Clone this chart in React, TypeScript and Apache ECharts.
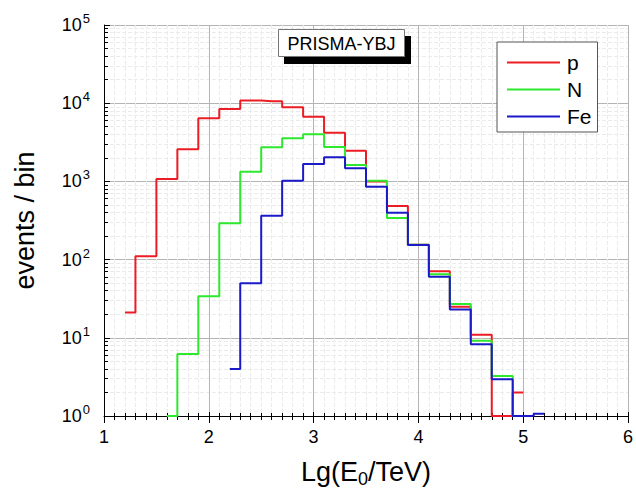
import React, { useEffect, useRef } from 'react';
import * as echarts from 'echarts';

// Bin centres (Lg(E0/TeV)) and counts per bin
const pX = [1.2, 1.4, 1.6, 1.8, 2.0, 2.2, 2.4, 2.6, 2.8, 3.0, 3.2, 3.4, 3.6, 3.8, 4.0, 4.2, 4.4, 4.6, 4.8, 5.0];
const pY = [21, 110, 1070, 2570, 6400, 8400, 10800, 10600, 8900, 6700, 4200, 2470, 1000, 484, 155, 71, 25, 10.9, 1, 2];

const nX = [1.6, 1.8, 2.0, 2.2, 2.4, 2.6, 2.8, 3.0, 3.2, 3.4, 3.6, 3.8, 4.0, 4.2, 4.4, 4.6, 4.8, 5.0];
const nY = [1, 6.2, 34, 291, 1330, 2730, 3560, 4000, 2750, 1620, 1020, 340, 155, 65, 27, 9.2, 3.25, 1];

const feX = [2.2, 2.4, 2.6, 2.8, 3.0, 3.2, 3.4, 3.6, 3.8, 4.0, 4.2, 4.4, 4.6, 4.8, 5.0, 5.2];
const feY = [4, 50, 364, 1020, 1670, 2030, 1470, 855, 397, 154, 60.5, 23, 8.3, 2.95, 1, 1.07];

const seriesNames = ['p', 'N', 'Fe'];
const seriesColors = ['#ec1c24', '#2ee82e', '#1a1ac8'];
const titleText = 'PRISMA-YBJ';

const FONT = '"Liberation Sans", Arial, sans-serif';

export default function App() {
  const ref = useRef<HTMLDivElement>(null);
  useEffect(() => {
    const chart = echarts.init(ref.current!, null, { renderer: 'svg' });
    const xs = [pX, nX, feX];
    const ys = [pY, nY, feY];
    chart.setOption({
      animation: false,
      backgroundColor: '#fff',
      color: seriesColors,
      grid: { left: 104, right: 4, top: 25, bottom: 76, containLabel: false },
      legend: {
        orient: 'vertical',
        left: 497,
        top: 42,
        icon: 'path://M0,0 L53,0 L53,2 L0,2 Z',
        itemWidth: 53,
        itemHeight: 2,
        itemGap: 6,
        padding: [10, 6, 5, 10],
        backgroundColor: '#fff',
        borderColor: '#555',
        borderWidth: 1,
        borderRadius: 0,
        textStyle: { fontSize: 21, color: '#000', fontFamily: FONT, padding: [0, 0, 0, 2] },
        data: seriesNames,
      },
      xAxis: [
        {
          type: 'value',
          min: 1,
          max: 6,
          interval: 1,
          position: 'bottom',
          axisLine: { show: true, onZero: false, lineStyle: { color: '#000', width: 1 } },
          axisTick: { show: true, inside: false, length: 7, lineStyle: { color: '#000' } },
          minorTick: { show: true, splitNumber: 10, length: 4, lineStyle: { color: '#000' } },
          axisLabel: { fontSize: 18, color: '#000', fontFamily: FONT, margin: 12, showMaxLabel: true, showMinLabel: true },
          splitLine: { show: true, lineStyle: { color: '#b4b4b4', width: 1 } },
          minorSplitLine: { show: true, lineStyle: { color: '#ebebeb', width: 1, type: 'dashed' } },
          name: '{a|Lg(E}{s|0}{a|/TeV)}',
          nameLocation: 'middle',
          nameGap: 40,
          nameTextStyle: {
            rich: {
              a: { fontSize: 27, color: '#000', fontFamily: FONT },
              s: { fontSize: 18, color: '#000', fontFamily: FONT, padding: [14, 0, 0, 0] },
            },
          },
        },
        {
          type: 'value',
          min: 1,
          max: 6,
          interval: 1,
          position: 'bottom',
          axisLine: { show: false, onZero: false },
          axisTick: { show: true, inside: true, length: 4, lineStyle: { color: '#000' } },
          minorTick: { show: true, splitNumber: 10, length: 3, lineStyle: { color: '#000' } },
          axisLabel: { show: false },
          splitLine: { show: false },
        },
      ],
      yAxis: {
        type: 'log',
        logBase: 10,
        min: 1,
        max: 100000,
        axisLine: { show: true, lineStyle: { color: '#000', width: 1 } },
        axisTick: { show: true, inside: true, length: 6, lineStyle: { color: '#000' } },
        minorTick: { show: true, splitNumber: 9, length: 4, lineStyle: { color: '#000' } },
        splitLine: { show: true, lineStyle: { color: '#b4b4b4', width: 1 } },
        minorSplitLine: { show: true, lineStyle: { color: '#ebebeb', width: 1, type: 'dashed' } },
        axisLabel: {
          margin: 14,
          formatter: (v: number) => `{b|10}{s|${Math.round(Math.log10(v))}}`,
          rich: {
            b: { fontSize: 18, color: '#000', fontFamily: FONT },
            s: { fontSize: 13, color: '#000', fontFamily: FONT, padding: [0, 0, 13, 1] },
          },
        },
        name: 'events / bin',
        nameLocation: 'middle',
        nameGap: 66,
        nameTextStyle: { fontSize: 27, color: '#000', fontFamily: FONT },
      },
      graphic: [
        { type: 'rect', z: 50, shape: { x: 284, y: 36, width: 127, height: 28 }, style: { fill: '#000' } },
        { type: 'rect', z: 51, shape: { x: 278.5, y: 29.5, width: 126, height: 27 }, style: { fill: '#fff', stroke: '#777', lineWidth: 1 } },
        {
          type: 'text',
          z: 52,
          x: 341.5,
          y: 43.5,
          style: { text: titleText, align: 'center', verticalAlign: 'middle', fontSize: 18, fontFamily: FONT, fill: '#000' },
        },
      ],
      series: seriesNames.map((name, k) => ({
        type: 'line',
        name,
        xAxisIndex: 0,
        step: 'middle',
        symbol: 'none',
        clip: true,
        lineStyle: { width: 2, color: seriesColors[k] },
        itemStyle: { color: seriesColors[k] },
        data: xs[k].map((x, i) => [x, ys[k][i]]),
      })),
    });
    return () => chart.dispose();
  }, []);
  return <div ref={ref} style={{ position: 'fixed', left: 0, top: 0, width: 636, height: 493, background: '#fff' }} />;
}
